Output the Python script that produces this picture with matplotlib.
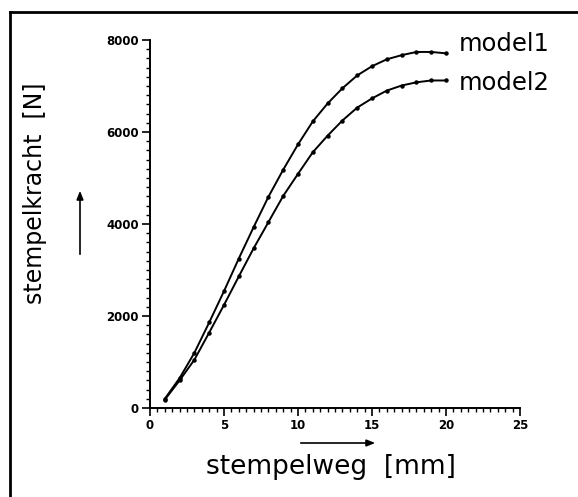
import numpy as np
import matplotlib.pyplot as plt
from matplotlib.ticker import MultipleLocator
from matplotlib.lines import Line2D
from matplotlib.patches import FancyArrowPatch

# stempelweg [mm]
weg = np.arange(1, 21)

# stempelkracht [N]
model1 = [200, 650, 1200, 1860, 2540, 3250, 3930, 4590, 5180, 5730,
          6230, 6620, 6950, 7230, 7430, 7580, 7670, 7740, 7740, 7710]
model2 = [180, 600, 1050, 1640, 2240, 2860, 3470, 4040, 4610, 5090,
          5560, 5920, 6250, 6530, 6730, 6900, 7010, 7080, 7120, 7120]

series_labels = ['model1', 'model2']

W, H = 578, 497
fig = plt.figure(figsize=(W / 100, H / 100), dpi=100)
ax = fig.add_axes([150 / W, 1 - 408 / H, 370 / W, 368 / H])

for vals in (model1, model2):
    ax.plot(weg, vals, color='black', lw=1.4, marker='o', ms=2.2)

# labels next to the curve ends (offsets in points)
for vals, name, dy in zip((model1, model2), series_labels, (1.5, -7)):
    ax.annotate(name, xy=(weg[-1], vals[-1]), xytext=(9.5, dy),
                textcoords='offset points', va='baseline', ha='left',
                fontsize=17.5, annotation_clip=False)

ax.set_xlim(0, 25)
ax.set_ylim(0, 8000)
ax.xaxis.set_major_locator(MultipleLocator(5))
ax.xaxis.set_minor_locator(MultipleLocator(0.5))
ax.yaxis.set_major_locator(MultipleLocator(2000))
ax.yaxis.set_minor_locator(MultipleLocator(200))
ax.tick_params(which='major', direction='out', length=6, width=1.2,
               labelsize=8.5, pad=2)
ax.tick_params(which='minor', direction='out', length=3, width=1.0)
for lab in ax.get_xticklabels() + ax.get_yticklabels():
    lab.set_fontweight('bold')
for side in ('top', 'right'):
    ax.spines[side].set_visible(False)
for side in ('left', 'bottom'):
    ax.spines[side].set_linewidth(1.4)

# axis titles and direction arrows
fig.text(331 / W, 1 - 467 / H, 'stempelweg  [mm]', ha='center', va='center',
         fontsize=19)
fig.text(35 / W, 1 - 193 / H, 'stempelkracht  [N]', ha='center', va='center',
         fontsize=17, rotation=90)
fig.patches.append(FancyArrowPatch(
    (298 / W, 1 - 443 / H), (378 / W, 1 - 443 / H), transform=fig.transFigure,
    arrowstyle='-|>,head_length=5,head_width=2', lw=1.2, color='black'))
fig.patches.append(FancyArrowPatch(
    (80 / W, 1 - 257 / H), (80 / W, 1 - 188 / H), transform=fig.transFigure,
    arrowstyle='-|>,head_length=5,head_width=2', lw=1.2, color='black'))

# frame around the figure (left and top edges)
fig.lines.append(Line2D([10 / W, 10 / W], [0, 1 - 12 / H],
                        transform=fig.transFigure, color='black', lw=2))
fig.lines.append(Line2D([10 / W, 1], [1 - 12 / H, 1 - 12 / H],
                        transform=fig.transFigure, color='black', lw=2))

fig.savefig('out.png', dpi=100)
